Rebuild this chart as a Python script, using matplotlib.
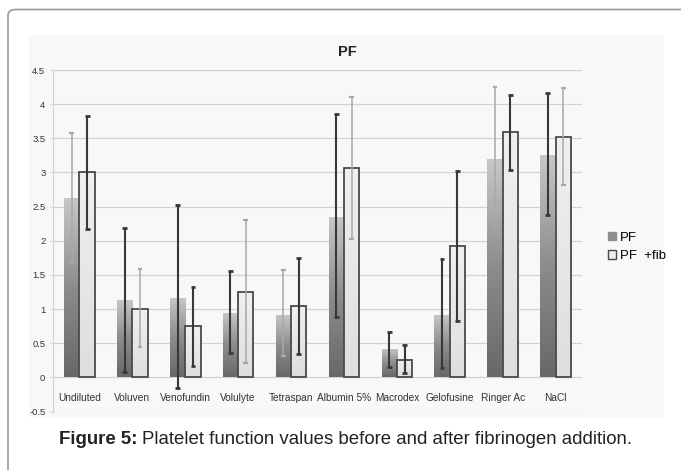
import numpy as np
import matplotlib.pyplot as plt
from matplotlib.patches import FancyBboxPatch, Rectangle, Patch
from matplotlib.colors import LinearSegmentedColormap

plt.rcParams['font.family'] = ['Liberation Sans', 'DejaVu Sans']

categories = ['Undiluted', 'Voluven', 'Venofundin', 'Volulyte', 'Tetraspan',
              'Albumin 5%', 'Macrodex', 'Gelofusine', 'Ringer Ac', 'NaCl']
pf = [2.62, 1.13, 1.16, 0.94, 0.92, 2.35, 0.41, 0.92, 3.20, 3.26]
pf_low = [1.68, 0.08, -0.15, 0.36, 0.31, 0.88, 0.15, 0.13, 2.19, 2.37]
pf_high = [3.58, 2.18, 2.52, 1.55, 1.57, 3.86, 0.67, 1.73, 4.25, 4.17]
fib = [3.00, 1.00, 0.75, 1.25, 1.04, 3.07, 0.26, 1.92, 3.59, 3.52]
fib_low = [2.17, 0.44, 0.17, 0.21, 0.34, 2.02, 0.06, 0.82, 3.03, 2.81]
fib_high = [3.82, 1.58, 1.32, 2.30, 1.75, 4.11, 0.47, 3.02, 4.13, 4.23]

# which error bars are drawn dark (True) or light grey (False)
pf_dark = [False, True, True, True, False, True, True, True, False, True]
fib_dark = [True, False, True, False, True, False, True, True, True, False]

W, H = 681, 470
fig = plt.figure(figsize=(W / 100, H / 100), dpi=100)

def px(x0, y0, x1, y1):
    # pixel box (top-left origin) -> figure fraction rect
    return [x0 / W, 1 - y1 / H, (x1 - x0) / W, (y1 - y0) / H]

# outer rounded frame
frame = FancyBboxPatch((8 / W, -0.1), (W + 20) / W, 1 - 9.5 / H + 0.1,
                       boxstyle='round,pad=0,rounding_size=0.012',
                       transform=fig.transFigure, fc='white', ec='#9a9a9a',
                       lw=1.2, zorder=-2)
fig.patches.append(frame)
# light chart panel
r = px(29, 35, 664, 417)
fig.patches.append(Rectangle((r[0], r[1]), r[2], r[3], transform=fig.transFigure,
                             fc='#f7f8f8', ec='none', zorder=-1))

ax = fig.add_axes(px(53, 70, 582, 411.5))
ax.set_zorder(2)
ax.set_facecolor('none')

x = np.arange(len(categories))
w = 0.29
bars_pf = ax.bar(x - w / 2, pf, w, color='none', ec='none', zorder=2)
bars_fib = ax.bar(x + w / 2, fib, w, color='none', ec='#4a4a4a', lw=1.3, zorder=3)

cm_pf = LinearSegmentedColormap.from_list('pf', ['#686868', '#8c8c8c', '#c8c8c8'])
cm_fib = LinearSegmentedColormap.from_list('fib', ['#dedede', '#f0f0f0'])
grad = np.linspace(0, 1, 256).reshape(-1, 1)
for bars, cm in [(bars_pf, cm_pf), (bars_fib, cm_fib)]:
    for b in bars:
        x0, y0, bw, bh = b.get_x(), b.get_y(), b.get_width(), b.get_height()
        im = ax.imshow(grad, cmap=cm, extent=(x0, x0 + bw, y0, y0 + bh),
                       origin='lower', aspect='auto', zorder=2.5)
        im.set_clip_path(b)

for xs, lo, hi, dark in [(x - w / 2, pf_low, pf_high, pf_dark),
                         (x + w / 2, fib_low, fib_high, fib_dark)]:
    for xi, l, h, d in zip(xs, lo, hi, dark):
        c = '#383838' if d else '#a8a8a8'
        lw = 1.5 if d else 1.1
        ax.vlines(xi, l, h, color=c, lw=lw, zorder=4)
        ax.hlines([l, h], xi - 0.045, xi + 0.045, color=c, lw=lw + 0.5, zorder=4)

ax.set_xlim(-0.5, len(categories) - 0.5)
ax.set_ylim(-0.5, 4.5)
ax.set_yticks(np.arange(-0.5, 4.51, 0.5))
ax.set_yticklabels(['-0.5', '0', '0.5', '1', '1.5', '2', '2.5', '3', '3.5', '4', '4.5'])
ax.yaxis.grid(True, color='#d2d2d2', lw=0.9)
ax.set_axisbelow(True)
ax.tick_params(axis='y', length=2.5, color='#d2d2d2', labelsize=6.8, pad=3,
               labelcolor='#333333')

ax.set_xticks(x)
ax.set_xticklabels(categories)
ax.spines['bottom'].set_position(('data', 0))
ax.spines['bottom'].set_visible(False)
ax.tick_params(axis='x', length=0, labelsize=7.3, pad=11, labelcolor='#333333')
for s in ['top', 'right']:
    ax.spines[s].set_visible(False)
ax.spines['left'].set_color('#d2d2d2')

fig.text(347 / W, 1 - 52 / H, 'PF', ha='center', va='center',
         fontsize=10.5, fontweight='bold', color='#222222')

handles = [Patch(fc='#8e8e8e', ec='#8e8e8e'), Patch(fc='#eeeeee', ec='#4a4a4a')]
fig.legend(handles, ['PF', 'PF  +fib'], loc='center left',
           bbox_to_anchor=(596 / W, 1 - 247 / H), frameon=False, fontsize=9.5,
           handlelength=0.6, handleheight=0.6, handletextpad=0.3, labelspacing=0.5)

t1 = fig.text(59 / W, 1 - 440 / H, 'Figure 5:', ha='left', va='center',
              fontsize=13.4, fontweight='bold', color='#222222')
ax.annotate('Platelet function values before and after fibrinogen addition.',
            xy=(1, 0), xycoords=t1, xytext=(3.5, 0), textcoords='offset points',
            ha='left', va='bottom', fontsize=13.4, color='#222222',
            annotation_clip=False)

fig.savefig('out.png', dpi=100)
